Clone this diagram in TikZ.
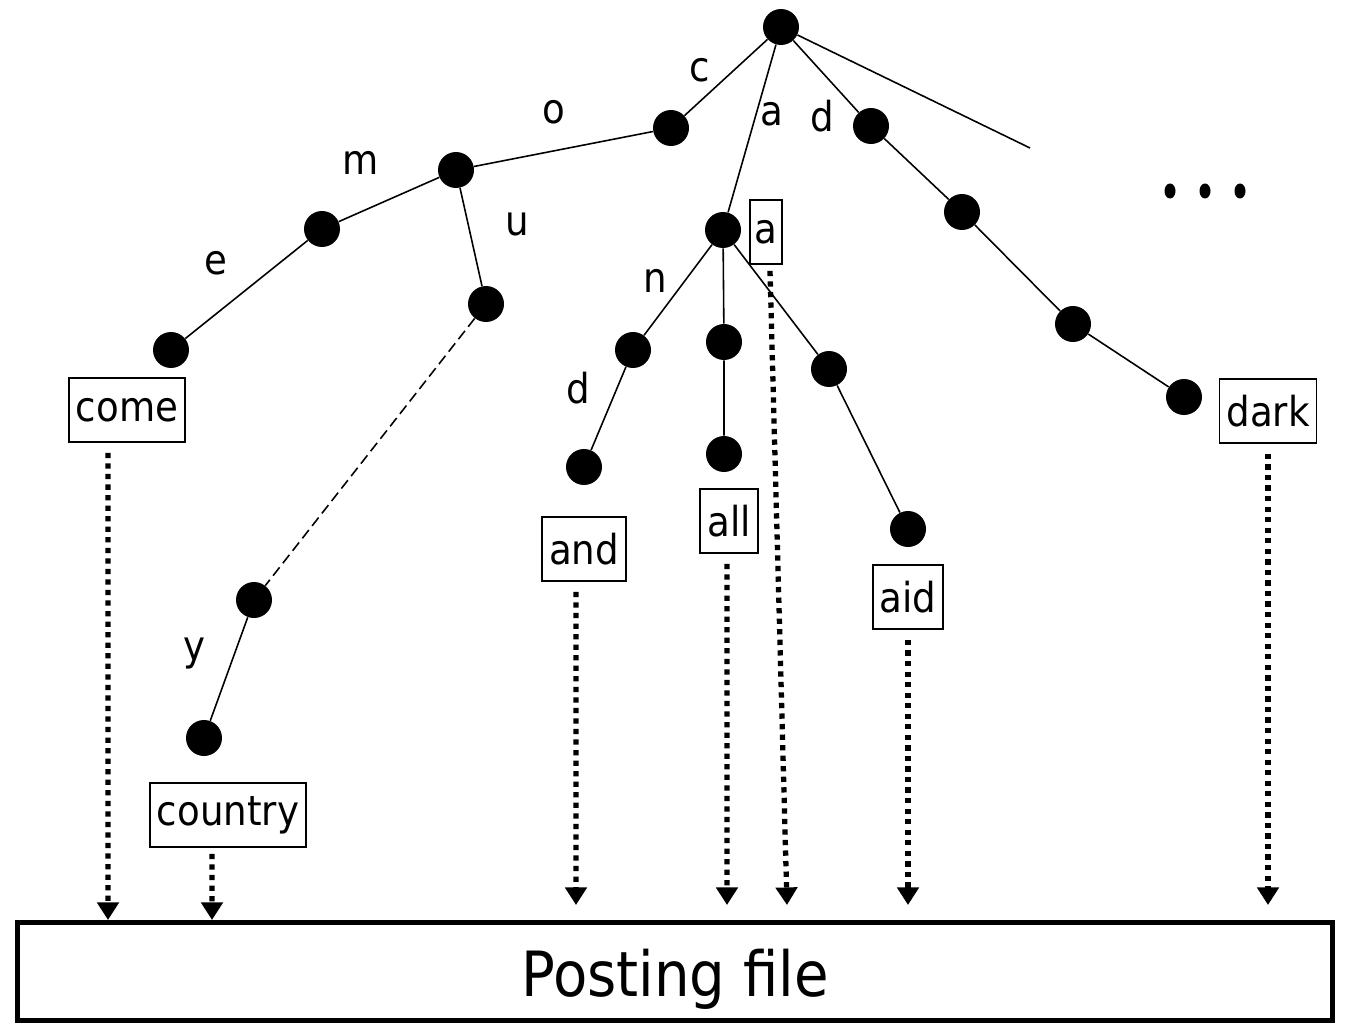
\documentclass[tikz,border=0pt]{standalone}
\usepackage{fontspec}
\setmainfont{DejaVu Sans Condensed}
\usetikzlibrary{arrows.meta,calc}
\begin{document}
\begin{tikzpicture}[x=0.02cm,y=-0.02cm,
  dot/.style={circle,fill=black,minimum size=0.72cm,inner sep=0pt},
  edge/.style={line width=0.9pt},
  word/.style={draw,line width=1pt,inner xsep=0.14cm,minimum height=1.28cm,font=\fontsize{23.5}{27}\selectfont},
  lbl/.style={font=\fontsize{23.5}{27}\selectfont,inner sep=0pt},
  parr/.style={line width=3pt,dash pattern=on 3pt off 3pt,-{Triangle[width=12pt,length=10pt]}}]
\useasboundingbox (0,0) rectangle (1348,1027);

% trie nodes
\node[dot] (r)  at (781,27)  {};
\node[dot] (c)  at (671,128) {};
\node[dot] (co) at (456,170) {};
\node[dot] (com) at (322,229) {};
\node[dot] (come) at (171,350) {};
\node[dot] (cou) at (486,304) {};
\node[dot] (cy) at (254,600) {};
\node[dot] (cty) at (204,738) {};
\node[dot] (a)  at (723,230) {};
\node[dot] (an) at (633,350) {};
\node[dot] (and) at (584,467) {};
\node[dot] (al) at (724,342) {};
\node[dot] (all) at (724,454) {};
\node[dot] (ai) at (829,369) {};
\node[dot] (aid) at (908,529) {};
\node[dot] (d)  at (871,126) {};
\node[dot] (da) at (962,212) {};
\node[dot] (dar) at (1073,324) {};
\node[dot] (dark) at (1184,397) {};
\coordinate (more) at (1030,148);

% trie edges
\draw[edge] (r) -- (c) -- (co) -- (com) -- (come);
\draw[edge] (co) -- (cou);
\draw[edge,dash pattern=on 6pt off 3pt] (cou) -- (cy);
\draw[edge] (cy) -- (cty);
\draw[edge] (r) -- (a);
\draw[edge] (a) -- (an) -- (and);
\draw[edge] (a) -- (al) -- (all);
\draw[edge] (a) -- (ai) -- (aid);
\draw[edge] (r) -- (d) -- (da) -- (dar) -- (dark);
\draw[edge] (r) -- (more);

% edge labels
\node[lbl] (lc) at (700,70)  {c};
\node[lbl] (lo) at (554,112) {o};
\node[lbl] (lm) at (361,163) {m};
\node[lbl] (le) at (216,263) {e};
\node[lbl] (lu) at (517,224) {u};
\node[lbl] (ly) at (194,653) {y};
\node[lbl] (la) at (772,114) {a};
\node[lbl] (ld) at (822,116) {d};
\node[lbl] (ln) at (655,281) {n};
\node[lbl] (ld2) at (578,388) {d};

% ellipsis
\foreach \x in {1170,1205,1240}
  \fill (\x,191) ellipse [x radius=5.5, y radius=7.5];

% word boxes
\node[word] (wcome) at (127,410) {come};
\node[word] (wcountry) at (228,815) {country};
\node[word] (wand) at (584,549) {and};
\node[word] (wall) at (729,521) {all};
\node[word,inner xsep=0.09cm] (wa) at (766,232) {a};
\node[word] (waid) at (908,597) {aid};
\node[word] (wdark) at (1268,411) {dark};

% posting file
\node[draw,line width=2.8pt,minimum width=26.3cm,minimum height=1.96cm,
      font=\fontsize{35.5}{40}\selectfont] (post) at (675,971.5)
      {\raisebox{-0.5cm}[0pt][0pt]{Posting file}};

% pointers into the posting file
\coordinate (pcome) at (108,920);
\coordinate (pcountry) at (212,920);
\coordinate (pand) at (576,905);
\coordinate (pall) at (727,905);
\coordinate (pa) at (787,905);
\coordinate (paid) at (908,905);
\coordinate (pdark) at (1268,905);
\draw[parr] ([xshift=-0.38cm,yshift=-0.2cm]wcome.south) -- (pcome);
\draw[parr] ([xshift=-0.32cm,yshift=-0.12cm]wcountry.south) -- (pcountry);
\draw[parr] ([xshift=-0.16cm,yshift=-0.2cm]wand.south) -- (pand);
\draw[parr] ([xshift=-0.04cm,yshift=-0.2cm]wall.south) -- (pall);
\draw[parr] ([xshift=0.08cm,yshift=-0.12cm]wa.south) -- (pa);
\draw[parr] ([yshift=-0.2cm]waid.south) -- (paid);
\draw[parr] ([yshift=-0.2cm]wdark.south) -- (pdark);
\end{tikzpicture}
\end{document}
